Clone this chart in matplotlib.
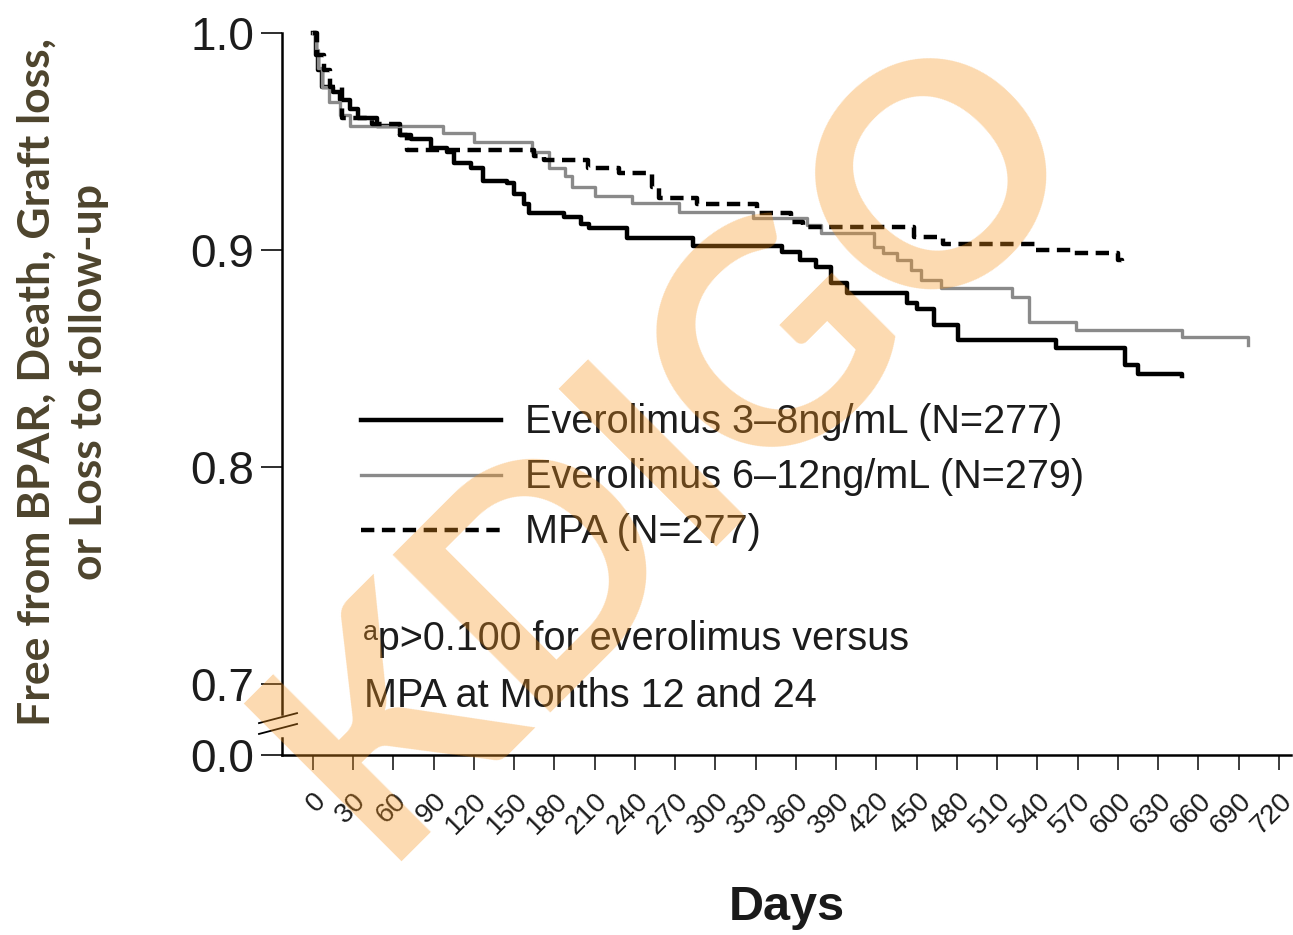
import matplotlib
matplotlib.use("Agg")
import matplotlib.pyplot as plt
from matplotlib.lines import Line2D

# Kaplan-Meier step data (day, survival)
evr_low_days = [0, 2, 4, 7, 15, 20, 28, 34, 48, 65, 73, 88, 100, 105, 118, 127, 145, 150, 157,
                161, 187, 200, 206, 234, 283, 350, 363, 375, 386, 398, 443, 450, 463, 481,
                554, 605, 615, 648]
evr_low_surv = [1.0, 0.99, 0.983, 0.975, 0.973, 0.969, 0.965, 0.961, 0.957, 0.953, 0.951, 0.947,
                0.945, 0.940, 0.938, 0.932, 0.931, 0.926, 0.921, 0.917, 0.915, 0.912, 0.910,
                0.9055, 0.902, 0.899, 0.8955, 0.892, 0.885, 0.880, 0.8756, 0.873, 0.8654,
                0.8585, 0.855, 0.847, 0.843, 0.842]

evr_high_days = [0, 2, 4, 7, 12, 20, 28, 97, 120, 163, 176, 188, 193, 210, 238, 273, 328, 368,
                 379, 418, 425, 435, 446, 453, 468, 521, 534, 569, 648, 697]
evr_high_surv = [1.0, 0.992, 0.984, 0.975, 0.968, 0.962, 0.957, 0.954, 0.950, 0.945, 0.938,
                 0.934, 0.929, 0.925, 0.9217, 0.9175, 0.9147, 0.9115, 0.9078, 0.9014, 0.8986,
                 0.8954, 0.8908, 0.8862, 0.8825, 0.8783, 0.8668, 0.8631, 0.860, 0.856]

mpa_days = [0, 3, 8, 13, 22, 44, 65, 70, 165, 172, 205, 228, 253, 258, 286, 331, 356, 365,
            448, 470, 539, 565, 600, 603]
mpa_surv = [1.0, 0.99, 0.983, 0.975, 0.961, 0.958, 0.953, 0.946, 0.9435, 0.9415, 0.938, 0.9355,
            0.929, 0.924, 0.921, 0.917, 0.913, 0.9106, 0.906, 0.903, 0.900, 0.8985, 0.8955, 0.893]

labels = ["Everolimus 3\u20138ng/mL (N=277)",
          "Everolimus 6\u201312ng/mL (N=279)",
          "MPA (N=277)"]

x_ticks = list(range(0, 721, 30))
y_tick_labels = ["0.0", "0.7", "0.8", "0.9", "1.0"]
y_tick_vals = [0.7, 0.8, 0.9, 1.0]

TXT = "#1c1c1c"
FONT = ["Liberation Sans", "DejaVu Sans"]
DASH = (0, (3.0, 1.7))

fig = plt.figure(figsize=(12.93, 9.35), dpi=100)
W, H = 1293, 935
ax = fig.add_axes([282 / W, 1 - 755 / H, (1291 - 282) / W, (755 - 33) / H])

y_bottom = 0.6673  # where the "0.0" (axis break) sits
ax.set_xlim(-23, 729)
ax.set_ylim(y_bottom, 1.0)

ax.step(evr_low_days, evr_low_surv, where="post", color="black", lw=3.2, clip_on=False)
ax.step(evr_high_days, evr_high_surv, where="post", color="#8a8a8a", lw=2.4, clip_on=False)
ax.step(mpa_days, mpa_surv, where="post", color="black", lw=3.2, linestyle=DASH, clip_on=False)

# spines
for s in ["top", "right"]:
    ax.spines[s].set_visible(False)
ax.spines["left"].set_linewidth(1.8)
ax.spines["bottom"].set_linewidth(1.8)
ax.spines["left"].set_bounds(0.6862, 1.0)

# lower stub of y axis + break marks
ytr = ax.get_yaxis_transform()
ax.plot([0, 0], [y_bottom, 0.6750], transform=ytr, color="black", lw=1.8, clip_on=False)
for y0, y1 in [(0.6820, 0.6866), (0.6770, 0.6816)]:
    ax.plot([-0.0228, 0.0149], [y0, y1], transform=ytr, color="black", lw=1.3, clip_on=False)

ax.set_yticks([y_bottom] + y_tick_vals)
ax.set_yticklabels(y_tick_labels)
ax.tick_params(axis="y", direction="out", length=15, width=1.3, pad=5, labelsize=33,
               colors=TXT)
ax.set_xticks(x_ticks)
ax.set_xticklabels([str(t) for t in x_ticks], rotation=45, ha="right", rotation_mode="anchor")
ax.tick_params(axis="x", direction="out", length=11, width=1.2, pad=13, labelsize=20,
               colors=TXT)
for lab in ax.get_xticklabels() + ax.get_yticklabels():
    lab.set_family(FONT)

# legend
handles = [Line2D([], [], color="black", lw=3.2),
           Line2D([], [], color="#8a8a8a", lw=2.4),
           Line2D([], [], color="black", lw=3.2, linestyle=DASH)]
leg = ax.legend(handles, labels, loc="upper left", bbox_to_anchor=(0.078, 0.487),
                frameon=False, handlelength=3.55, handletextpad=0.6, labelspacing=0.43,
                borderpad=0, borderaxespad=0, prop={"family": FONT, "size": 28.5})
for t in leg.get_texts():
    t.set_color(TXT)

# footnote
ax.text(0.080, 0.160, "\u1d43p>0.100 for everolimus versus", transform=ax.transAxes,
        fontsize=28.5, family=FONT, color=TXT, va="center")
ax.text(0.081, 0.082, "MPA at Months 12 and 24", transform=ax.transAxes,
        fontsize=28.5, family=FONT, color=TXT, va="center")

# axis titles
fig.text(787 / W, 1 - 908 / H, "Days", ha="center", va="center", fontsize=35,
         fontweight="bold", family=FONT, color="#1a1a1a")
fig.text(63 / W, 1 - 382 / H, "Free from BPAR, Death, Graft loss,\nor Loss to follow-up",
         rotation=90, ha="center", va="center", fontsize=32, fontweight="bold",
         family=["Lato", "DejaVu Sans"], color="#4d442d", linespacing=1.38)

# watermark
fig.text(672 / W, 1 - 442 / H, "KDIGO", rotation=45, ha="center", va="center",
         rotation_mode="anchor", fontsize=222, fontweight="bold",
         family=["Lato", "DejaVu Sans"], color="#F7941D", alpha=0.35, zorder=10)

fig.savefig("out.png", dpi=100)
